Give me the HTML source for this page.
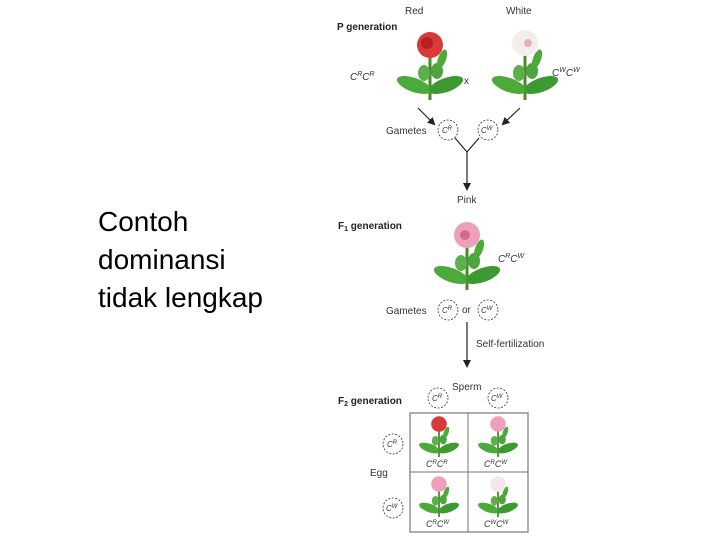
<!DOCTYPE html>
<html><head><style>
body{margin:0;width:720px;height:540px;background:#fff;overflow:hidden;position:relative;font-family:"Liberation Sans",sans-serif}
.big{position:absolute;left:98px;top:203px;font-size:28px;line-height:38px;color:#000}
</style></head><body>
<div class="big">Contoh<br>dominansi<br>tidak lengkap</div>
<svg width="720" height="540" style="position:absolute;left:0;top:0" font-family="Liberation Sans, sans-serif">
<defs>
<marker id="ah" markerWidth="8" markerHeight="8" refX="6" refY="4" orient="auto" markerUnits="userSpaceOnUse"><path d="M0,0 L8,4 L0,8 z" fill="#222"/></marker>
<g id="plant">
<path d="M0,0 L0,45" stroke="#4a8a2a" stroke-width="3"/>
<ellipse cx="-16" cy="30" rx="18" ry="7" fill="#4caa3a" transform="rotate(20 -16 30)"/>
<ellipse cx="16" cy="30" rx="18" ry="7" fill="#3d9a30" transform="rotate(-20 16 30)"/>
<ellipse cx="-6" cy="18" rx="6" ry="8" fill="#5cb04a"/>
<ellipse cx="7" cy="16" rx="6" ry="8" fill="#4ea43e"/>
<ellipse cx="12" cy="4" rx="4" ry="10" fill="#4caa3a" transform="rotate(20 12 4)"/>
</g>
</defs>
<g font-size="10" fill="#333">
<text x="405" y="14">Red</text><text x="506" y="14">White</text>
<text x="337" y="30" font-weight="bold" fill="#222">P generation</text>
<text x="350" y="80" font-style="italic">C<tspan dy="-4" font-size="7">R</tspan><tspan dy="4">C</tspan><tspan dy="-4" font-size="7">R</tspan></text>
<text x="464" y="84">x</text>
<text x="552" y="76" font-style="italic">C<tspan dy="-4" font-size="7">W</tspan><tspan dy="4">C</tspan><tspan dy="-4" font-size="7">W</tspan></text>
<text x="386" y="134">Gametes</text>
<text x="457" y="203">Pink</text>
<text x="338" y="229" font-weight="bold" fill="#222">F<tspan font-size="7" dy="2">1</tspan><tspan dy="-2"> generation</tspan></text>
<text x="498" y="262" font-style="italic">C<tspan dy="-4" font-size="7">R</tspan><tspan dy="4">C</tspan><tspan dy="-4" font-size="7">W</tspan></text>
<text x="386" y="314">Gametes</text><text x="462" y="313">or</text>
<text x="476" y="347">Self-fertilization</text>
<text x="452" y="390">Sperm</text>
<text x="338" y="404" font-weight="bold" fill="#222">F<tspan font-size="7" dy="2">2</tspan><tspan dy="-2"> generation</tspan></text>
<text x="370" y="476">Egg</text>
</g>
<g fill="none" stroke="#333" stroke-width="0.8" stroke-dasharray="2,1.5">
<circle cx="448" cy="130" r="10"/><circle cx="488" cy="130" r="10"/>
<circle cx="448" cy="310" r="10"/><circle cx="488" cy="310" r="10"/>
<circle cx="438" cy="398" r="10"/><circle cx="498" cy="398" r="10"/>
<circle cx="393" cy="444" r="10"/><circle cx="393" cy="508" r="10"/>
</g>
<g font-size="8" font-style="italic" fill="#333">
<text x="442" y="133">C<tspan dy="-3" font-size="6">R</tspan></text><text x="481" y="133">C<tspan dy="-3" font-size="6">W</tspan></text>
<text x="442" y="313">C<tspan dy="-3" font-size="6">R</tspan></text><text x="481" y="313">C<tspan dy="-3" font-size="6">W</tspan></text>
<text x="432" y="401">C<tspan dy="-3" font-size="6">R</tspan></text><text x="491" y="401">C<tspan dy="-3" font-size="6">W</tspan></text>
<text x="387" y="447">C<tspan dy="-3" font-size="6">R</tspan></text><text x="386" y="511">C<tspan dy="-3" font-size="6">W</tspan></text>
</g>
<g stroke="#222" stroke-width="1.2" fill="none">
<line x1="418" y1="108" x2="434" y2="124" marker-end="url(#ah)"/>
<line x1="520" y1="108" x2="503" y2="124" marker-end="url(#ah)"/>
<path d="M455,138 L467,152 L479,138"/>
<line x1="467" y1="152" x2="467" y2="189" marker-end="url(#ah)"/>
<line x1="467" y1="322" x2="467" y2="366" marker-end="url(#ah)"/>
</g>
<rect x="410" y="413" width="118" height="119" fill="#fff" stroke="#777" stroke-width="1.2"/>
<line x1="468" y1="413" x2="468" y2="532" stroke="#777"/><line x1="410" y1="472" x2="528" y2="472" stroke="#777"/>
<g transform="translate(430,55)"><use href="#plant"/><circle cx="0" cy="-10" r="13" fill="#d83a3a"/><circle cx="-3" cy="-12" r="6" fill="#b82020"/></g>
<g transform="translate(525,55)"><use href="#plant"/><circle cx="0" cy="-12" r="13" fill="#f2eeee"/><circle cx="3" cy="-12" r="4" fill="#e8b0b8"/></g>
<g transform="translate(467,245)"><use href="#plant"/><circle cx="0" cy="-10" r="13" fill="#eea0b8"/><circle cx="-2" cy="-10" r="5" fill="#d66a8e"/></g>
<g transform="translate(439,430) scale(0.6)"><use href="#plant"/><circle cx="0" cy="-10" r="13" fill="#d83a3a"/></g>
<g transform="translate(498,430) scale(0.6)"><use href="#plant"/><circle cx="0" cy="-10" r="13" fill="#eea0b8"/></g>
<g transform="translate(439,490) scale(0.6)"><use href="#plant"/><circle cx="0" cy="-10" r="13" fill="#eea0b8"/></g>
<g transform="translate(498,490) scale(0.6)"><use href="#plant"/><circle cx="0" cy="-10" r="13" fill="#f4e6ea"/></g>
<g font-size="9" font-style="italic" fill="#333">
<text x="426" y="467">C<tspan dy="-3" font-size="6">R</tspan><tspan dy="3">C</tspan><tspan dy="-3" font-size="6">R</tspan></text>
<text x="484" y="467">C<tspan dy="-3" font-size="6">R</tspan><tspan dy="3">C</tspan><tspan dy="-3" font-size="6">W</tspan></text>
<text x="426" y="527">C<tspan dy="-3" font-size="6">R</tspan><tspan dy="3">C</tspan><tspan dy="-3" font-size="6">W</tspan></text>
<text x="484" y="527">C<tspan dy="-3" font-size="6">W</tspan><tspan dy="3">C</tspan><tspan dy="-3" font-size="6">W</tspan></text>
</g>
</svg>
</body></html>
